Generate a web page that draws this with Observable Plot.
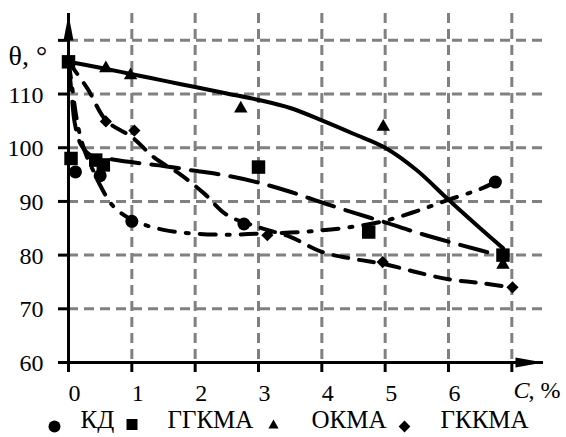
<!DOCTYPE html>
<html><head><meta charset="utf-8">
<script src="https://cdn.jsdelivr.net/npm/d3@7"></script>
<script src="https://cdn.jsdelivr.net/npm/@observablehq/plot@0.6"></script>
<style>body{margin:0;background:#fff} svg{display:block}</style>
</head><body><div id="chart"></div>
<script>
// Tick values
const xTicks = [0, 1, 2, 3, 4, 5, 6, 7];
const xLabels = [0, 1, 2, 3, 4, 5, 6];
const yTicks = [60, 70, 80, 90, 100, 110, 120];
const yLabels = [60, 70, 80, 90, 100, 110];
const xGrid = [1, 2, 3, 4, 5, 6, 7];
const yGrid = [70, 80, 90, 100, 110, 120];

// Measured points
const kdC = [0, 0.11, 0.5, 1.0, 2.77, 6.74];
const kdT = [116, 95.5, 94.8, 86.3, 85.8, 93.6];
const ggkmaC = [0, 0.04, 0.43, 0.55, 3.0, 4.74, 6.86];
const ggkmaT = [116, 98.0, 97.7, 96.8, 96.4, 84.3, 80.0];
const okmaC = [0, 0.59, 0.98, 2.72, 4.97, 6.86];
const okmaT = [116, 114.8, 113.5, 107.3, 103.9, 78.2];
const gkkmaC = [0, 0.59, 1.04, 3.14, 4.96, 7.01];
const gkkmaT = [116, 104.9, 103.2, 83.7, 78.7, 74.0];

// Fitted curves
const kdCurveC = [0, 0.05, 0.12, 0.2, 0.3, 0.4, 0.5, 0.7, 1, 1.5, 2, 2.5, 3, 3.5, 4, 4.5, 5, 5.5, 6, 6.5, 6.74];
const kdCurveT = [116, 112, 106, 101.5, 98, 95.5, 93, 89.2, 86.6, 84.7, 84, 83.8, 84, 84.2, 84.6, 85.3, 86.4, 88.2, 90.3, 92.3, 93.6];
const ggkmaCurveC = [0, 0.05, 0.1, 0.2, 0.35, 0.7, 1.2, 1.5, 2, 2.5, 3, 3.5, 4, 4.5, 5, 5.5, 6, 6.5, 6.86];
const ggkmaCurveT = [116, 110, 104.5, 100.5, 98.6, 97.8, 97, 96.6, 95.7, 94.8, 93.5, 91.8, 89.8, 87.9, 86.1, 84.2, 82.5, 80.9, 79.8];
const okmaCurveC = [0, 0.5, 1, 1.5, 2, 2.5, 3, 3.5, 4, 4.5, 5, 5.5, 6, 6.5, 6.86];
const okmaCurveT = [116, 114.9, 113.7, 112.5, 111.3, 110.1, 108.9, 107.4, 105.1, 102.6, 100, 95.8, 90.3, 85, 81.3];
const gkkmaCurveC = [0, 0.3, 0.6, 1, 1.35, 1.77, 2.14, 2.5, 3, 3.5, 4, 4.5, 5, 5.5, 6, 6.5, 7];
const gkkmaCurveT = [116, 111, 105, 102, 98.2, 95, 91.5, 87.5, 85.2, 83.4, 80.6, 79.3, 78.3, 76.8, 75.5, 74.8, 74];

const legendNames = ["КД", "ГГКМА", "ОКМА", "ГККМА"];

const pts = (cs, ts) => cs.map((c, i) => ({c, t: ts[i]}));

const upArrow = {draw(ctx) { ctx.moveTo(0, 0); ctx.lineTo(5, 26); ctx.lineTo(-5, 26); ctx.closePath(); }};
const rightArrow = {draw(ctx) { ctx.moveTo(0, 0); ctx.lineTo(-28, -5); ctx.lineTo(-28, 5); ctx.closePath(); }};

const font = "Liberation Serif";
const gridStyle = {stroke: "#808080", strokeWidth: 3, strokeDasharray: "10,6"};
const lineStyle = {x: "c", y: "t", curve: "catmull-rom", stroke: "black", strokeWidth: 4, fill: "none"};
const txt = (size, extra) => ({text: d => d, fontSize: size, fontFamily: font, fill: "black", ...extra});

const chart = Plot.plot({
  width: 566,
  height: 437,
  marginLeft: 68,
  marginRight: 23,
  marginTop: 13,
  marginBottom: 75,
  style: "font-family: 'Liberation Serif', serif; font-size: 24px; color: black; background: white;",
  x: {domain: [0, 7.5], label: null},
  y: {domain: [60, 125], label: null},
  marks: [
    Plot.ruleX(xGrid, gridStyle),
    Plot.ruleY(yGrid, gridStyle),
    Plot.line(pts(ggkmaCurveC, ggkmaCurveT), {...lineStyle, strokeDasharray: "28,12"}),
    Plot.line(pts(gkkmaCurveC, gkkmaCurveT), {...lineStyle, strokeDasharray: "15,11"}),
    Plot.line(pts(kdCurveC, kdCurveT), {...lineStyle, strokeDasharray: "16,11,3,11"}),
    Plot.line(pts(okmaCurveC, okmaCurveT), {...lineStyle}),
    Plot.dot(pts(kdC, kdT), {x: "c", y: "t", symbol: "circle", r: 6.5, fill: "black"}),
    Plot.dot(pts(okmaC, okmaT), {x: "c", y: "t", symbol: "triangle", r: 5, fill: "black"}),
    Plot.dot(pts(gkkmaC, gkkmaT), {x: "c", y: "t", symbol: "diamond2", r: 5.5, fill: "black"}),
    Plot.dot(pts(ggkmaC, ggkmaT), {x: "c", y: "t", symbol: "square", r: 7.6, fill: "black"}),
    // axes
    Plot.ruleX([0], {stroke: "black", strokeWidth: 3}),
    Plot.ruleY([60], {stroke: "black", strokeWidth: 3}),
    Plot.axisX({ticks: xTicks, tickSize: 10, fill: "none", stroke: "black", strokeWidth: 3}),
    Plot.axisY({ticks: yTicks, tickSize: 10, fill: "none", stroke: "black", strokeWidth: 3}),
    Plot.dot([0], {frameAnchor: "top-left", dy: 1, symbol: upArrow, fill: "black", stroke: "none"}),
    Plot.dot([0], {frameAnchor: "bottom-right", symbol: rightArrow, fill: "black", stroke: "none"}),
    Plot.text(xLabels, {x: d => d, frameAnchor: "bottom", dx: 6, dy: 38, ...txt(24, {text: d => String(d)})}),
    Plot.text(yLabels, {y: d => d, frameAnchor: "left", dx: -25, dy: 1, textAnchor: "end", ...txt(24, {text: d => String(d)})}),
    Plot.text(["θ, °"], {frameAnchor: "top-left", dx: -60, dy: 32, textAnchor: "start", ...txt(28)}),
    Plot.text(["C"], {frameAnchor: "bottom-right", dx: -30, dy: 35, textAnchor: "start", ...txt(24, {fontStyle: "italic"})}),
    Plot.text([", %"], {frameAnchor: "bottom-right", dx: -15, dy: 35, textAnchor: "start", ...txt(24)}),
    // legend
    Plot.dot([0], {frameAnchor: "bottom-left", dx: -14, dy: 64, symbol: "circle", r: 6, fill: "black"}),
    Plot.dot([0], {frameAnchor: "bottom-left", dx: 63.5, dy: 62, symbol: "square", r: 6.2, fill: "black"}),
    Plot.dot([0], {frameAnchor: "bottom-left", dx: 205, dy: 63, symbol: "triangle", r: 3.8, fill: "black"}),
    Plot.dot([0], {frameAnchor: "bottom-left", dx: 336, dy: 64, symbol: "diamond2", r: 5.3, fill: "black"}),
    Plot.text([legendNames[0]], {frameAnchor: "bottom-left", dx: 12, dy: 65, textAnchor: "start", ...txt(25)}),
    Plot.text([legendNames[1]], {frameAnchor: "bottom-left", dx: 99, dy: 65, textAnchor: "start", ...txt(25)}),
    Plot.text([legendNames[2]], {frameAnchor: "bottom-left", dx: 243, dy: 65, textAnchor: "start", ...txt(25)}),
    Plot.text([legendNames[3]], {frameAnchor: "bottom-left", dx: 372, dy: 65, textAnchor: "start", ...txt(25)})
  ]
});
document.getElementById("chart").appendChild(chart);
</script>
</body></html>
